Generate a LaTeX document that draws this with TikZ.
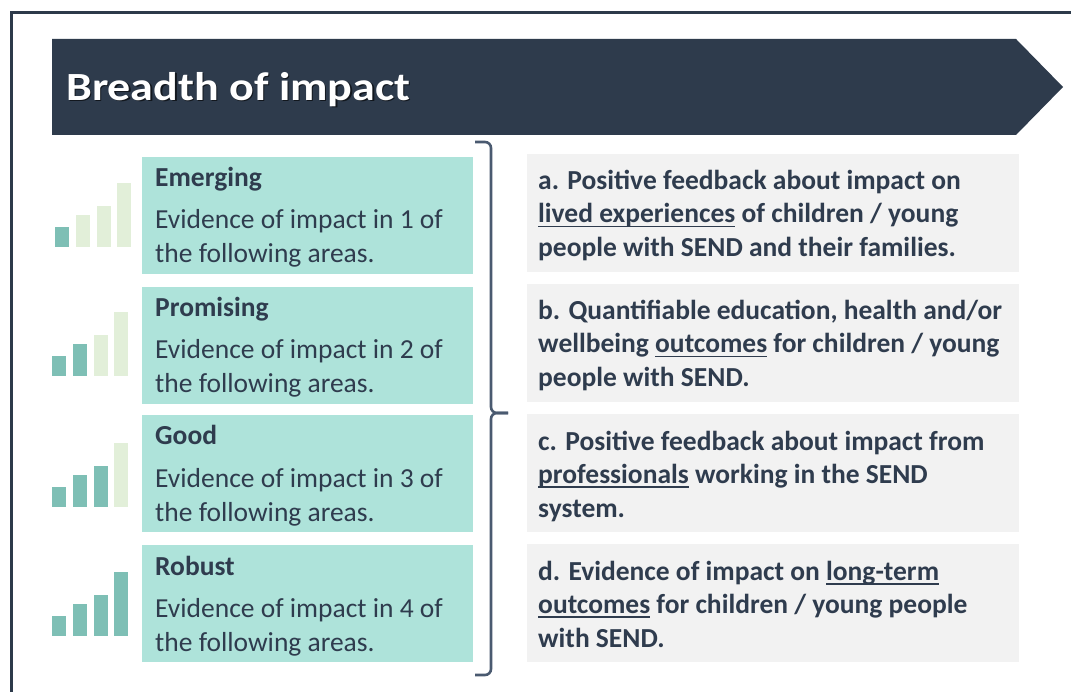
\documentclass[tikz,border=0pt]{standalone}
\usepackage{fontspec}
\setmainfont{Carlito}
\newfontfamily\titlefont{Carlito}[FakeStretch=1.15]
\newsavebox\ulxbox
\newcommand\ulx[1]{\sbox\ulxbox{#1}\rlap{\rule[-4.5pt]{\wd\ulxbox}{1.8pt}}\usebox\ulxbox}
\definecolor{framecol}{HTML}{2D3A4A}
\definecolor{banner}{HTML}{2E3B4C}
\definecolor{textdark}{HTML}{2F3C4E}
\definecolor{bracecol}{HTML}{4A5A70}
\definecolor{leftbox}{HTML}{AEE3DA}
\definecolor{baron}{HTML}{7EBFB5}
\definecolor{baroff}{HTML}{E2EFD9}
\definecolor{rightbox}{HTML}{F2F2F2}
\begin{document}
\begin{tikzpicture}[x=1pt,y=-1pt,
  lbox/.style={fill=leftbox, draw=none, minimum width=331pt, minimum height=117pt, anchor=north west, inner sep=0pt},
  rbox/.style={fill=rightbox, draw=none, minimum width=492pt, minimum height=118pt, anchor=north west, inner sep=0pt},
  txt/.style={anchor=base west, inner sep=0pt, text=textdark, font=\fontsize{27.5}{30}\selectfont},
  headtxt/.style={txt, font=\fontsize{27.5}{30}\selectfont\bfseries},
  rtxt/.style={txt, font=\fontsize{27.5}{30}\selectfont\bfseries},
  titletxt/.style={anchor=base west, inner sep=0pt, font=\titlefont\fontsize{40}{42}\selectfont\bfseries}]
\useasboundingbox (0,0) rectangle (1071,692);
\fill[white] (0,0) rectangle (1071,692);
% frame
\draw[framecol, line width=3pt] (11.5,692) -- (11.5,13) -- (1071,13);
% banner
\fill[banner] (52,39) -- (1016,39) -- (1063,87) -- (1016,135) -- (52,135) -- cycle;
\node[titletxt, text=black, opacity=0.6] (titleshadow) at (67.5,102) {Breadth of impact};
\node[titletxt, text=white] (title) at (66,100.5) {Breadth of impact};
% left boxes
\foreach \tp/\nm/\n/\bb/\xo [count=\i] in {157/Emerging/1/247/3, 287/Promising/2/376/0, 415/Good/3/507/0, 545/Robust/4/636/0} {
  \node[lbox] (L\i) at (142,\tp) {};
  \node[headtxt] (L\i h) at (155,\tp+30) {\nm};
  \node[txt] (L\i a) at (155,\tp+72) {Evidence of impact in \n\ of};
  \node[txt] (L\i b) at (155,\tp+106) {the following areas.};
  \foreach \bx/\bh [count=\j] in {52/20, 73/32, 94/41, 114/64} {
    \ifnum\j>\n\relax\def\bc{baroff}\else\def\bc{baron}\fi
    \fill[\bc] (\bx+\xo,\bb) rectangle (\bx+\xo+13.5,\bb-\bh);
  }
}
% brace
\draw[bracecol, line width=2.6pt, rounded corners=6pt] (475,142) -- (491,142) -- (491,413) -- (508,413);
\draw[bracecol, line width=2.6pt, rounded corners=6pt] (508,413) -- (491,413) -- (491,675) -- (475,675);
% right boxes
\node[rbox] (Ra) at (527,154) {};
\node[rtxt] (Ra1) at (538,190) {a. Positive feedback about impact on};
\node[rtxt] (Ra2) at (538,223) {\ulx{lived experiences} of children / young};
\node[rtxt] (Ra3) at (538,257) {people with SEND and their families.};
\node[rbox] (Rb) at (527,284) {};
\node[rtxt] (Rb1) at (538,320) {b. Quantifiable education, health and/or};
\node[rtxt] (Rb2) at (538,353) {wellbeing \ulx{outcomes} for children / young};
\node[rtxt] (Rb3) at (538,387) {people with SEND.};
\node[rbox] (Rc) at (527,414) {};
\node[rtxt] (Rc1) at (538,450) {c. Positive feedback about impact from};
\node[rtxt] (Rc2) at (538,483) {\ulx{professionals} working in the SEND};
\node[rtxt] (Rc3) at (538,517) {system.};
\node[rbox] (Rd) at (527,544) {};
\node[rtxt] (Rd1) at (538,580) {d. Evidence of impact on \ulx{long-term}};
\node[rtxt] (Rd2) at (538,613) {\ulx{outcomes} for children / young people};
\node[rtxt] (Rd3) at (538,647) {with SEND.};
\end{tikzpicture}
\end{document}
